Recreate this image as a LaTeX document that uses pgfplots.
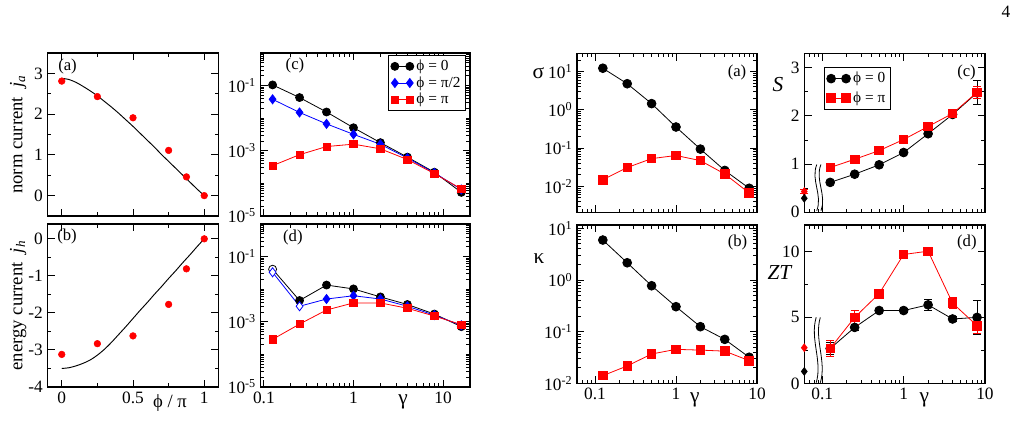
\documentclass[border=0pt]{standalone}
\usepackage{fontspec}
\setmainfont{Liberation Serif}
\usepackage{pgfplots}
\pgfplotsset{compat=1.18}

% font sizes
\newcommand{\tk}{\fontsize{13}{15}\selectfont}
\newcommand{\lbf}{\fontsize{14}{16}\selectfont}
\newcommand{\glf}{\fontsize{16}{18}\selectfont}
\newcommand{\plf}{\fontsize{12.5}{14}\selectfont}
\newcommand{\lgf}{\fontsize{11.5}{13}\selectfont}
\newcommand{\tenp}[1]{10\textsuperscript{#1}}

\pgfplotsset{
  grace/.style={
    scale only axis, anchor=south west, clip=false,
    axis line style={line width=1pt},
    every tick/.style={black, line width=0.7pt},
    tick align=inside,
    major tick length=5.5pt, minor tick length=2.8pt,
    tick label style={font=\tk},
    legend cell align=left,
    legend image code/.code={\draw[mark repeat=2,mark phase=1,#1]
      plot coordinates {(0pt,0pt) (5.6pt,0pt) (11.2pt,0pt)};},
  },
  blk/.style={black, line width=0.6pt, mark=*, mark size=3pt},
  blu/.style={blue, line width=0.6pt, mark=diamond*, mark size=3.4pt},
  rsq/.style={red, line width=0.6pt, mark=square*, mark size=2.7pt},
  blkR/.style={black, line width=0.6pt, mark=*, mark size=3.3pt},
  rsqR/.style={red, line width=0.6pt, mark=square*, mark size=3.2pt},
  errs/.style={error bars/y dir=both, error bars/y explicit,
    error bars/error bar style={line width=0.6pt},
    error bars/error mark options={rotate=90, mark size=3pt, line width=0.6pt}},
}

\begin{document}
\begin{tikzpicture}
\useasboundingbox (0pt,0pt) rectangle (761.25pt,-315.75pt);
\node[font=\tk] at (754.5pt,-9pt) {4};

% ---------- norm current ----------
\begin{axis}[grace, at={(35.625pt,-162pt)}, width=128.25pt, height=122.25pt,
  xmin=-0.1, xmax=1.1, ymin=-0.5, ymax=3.5,
  xtick={0,0.5,1}, xticklabels={}, minor xtick={0.25,0.75},
  ytick={0,1,2,3}, yticklabels={0,1,2,3}, minor ytick={0.5,1.5,2.5},
  ylabel={norm current~~\textit{j}\textsubscript{\textit{a}}},
  ylabel style={at={(axis description cs:-0.172,0.5)}, anchor=center, font=\lbf}]
\addplot[black, line width=0.7pt, smooth] coordinates {
  (0,2.88) (0.05,2.85) (0.1,2.78) (0.15,2.68) (0.2,2.57) (0.25,2.45)
  (0.3,2.31) (0.35,2.17) (0.4,2.02) (0.45,1.86) (0.5,1.70) (0.55,1.53)
  (0.6,1.36) (0.65,1.19) (0.7,1.01) (0.75,0.84) (0.8,0.67) (0.85,0.50)
  (0.9,0.33) (0.95,0.16) (1,0)};
\addplot[red, only marks, mark=*, mark size=2.5pt] coordinates {
  (0,2.81) (0.25,2.43) (0.5,1.91) (0.75,1.11) (0.875,0.46) (1,0)};
\node[font=\plf] at (axis description cs:0.117,0.92) {(a)};
\end{axis}

% ---------- energy current ----------
\begin{axis}[grace, at={(35.625pt,-290.25pt)}, width=128.25pt, height=122.25pt,
  xmin=-0.1, xmax=1.1, ymin=-4, ymax=0.4,
  xtick={0,0.5,1}, xticklabels={0,0.5,1}, minor xtick={0.25,0.75},
  ytick={-4,-3,-2,-1,0}, yticklabels={-4,-3,-2,-1,0}, minor ytick={-3.5,-2.5,-1.5,-0.5},
  ylabel={energy current~~\textit{j}\textsubscript{\textit{h}}},
  ylabel style={at={(axis description cs:-0.172,0.5)}, anchor=center, font=\lbf},
  xlabel={ϕ / π},
  xlabel style={at={(axis description cs:0.716,-0.123)}, anchor=base, font=\lbf}]
\addplot[black, line width=0.7pt, smooth] coordinates {
  (0,-3.50) (0.05,-3.48) (0.1,-3.43) (0.15,-3.36) (0.2,-3.27) (0.25,-3.14)
  (0.3,-2.98) (0.35,-2.79) (0.4,-2.58) (0.45,-2.37) (0.5,-2.15) (0.55,-1.93)
  (0.6,-1.72) (0.65,-1.50) (0.7,-1.29) (0.75,-1.07) (0.8,-0.86) (0.85,-0.64)
  (0.9,-0.43) (0.95,-0.21) (1,0)};
\addplot[red, only marks, mark=*, mark size=2.5pt] coordinates {
  (0,-3.12) (0.25,-2.83) (0.5,-2.62) (0.75,-1.77) (0.875,-0.81) (1,0)};
\node[font=\plf] at (axis description cs:0.114,0.923) {(b)};
\end{axis}

% ---------- (c) ----------
\begin{axis}[grace, at={(195.5pt,-162pt)}, width=157pt, height=122.25pt,
  xmode=log, ymode=log, xmin=0.092, xmax=20, ymin=1e-5, ymax=1,
  xtick={0.1,1,10}, xticklabels={},
  minor xtick={0.2,0.3,0.4,0.5,0.6,0.7,0.8,0.9,2,3,4,5,6,7,8,9,20},
  ytick={1e-5,1e-3,1e-1}, yticklabels={\tenp{-5},\tenp{-3},\tenp{-1}},
  minor ytick={2e-5,3e-5,4e-5,5e-5,6e-5,7e-5,8e-5,9e-5,1e-4,2e-4,3e-4,4e-4,5e-4,6e-4,7e-4,8e-4,9e-4,2e-3,3e-3,4e-3,5e-3,6e-3,7e-3,8e-3,9e-3,1e-2,2e-2,3e-2,4e-2,5e-2,6e-2,7e-2,8e-2,9e-2,2e-1,3e-1,4e-1,5e-1,6e-1,7e-1,8e-1,9e-1},
  legend style={at={(axis description cs:0.979,0.988)}, anchor=north east,
    draw=black, line width=0.6pt, font=\lgf, inner sep=1.5pt, row sep=-1pt}]
\addplot[blk] coordinates {(0.125,0.105) (0.25,0.043) (0.5,0.0155) (1,0.0051) (2,0.00178) (4,6.4e-4) (8,2.2e-4) (16,5.3e-5)};
\addlegendentry{ϕ = 0}
\addplot[blu] coordinates {(0.125,0.038) (0.25,0.015) (0.5,0.0067) (1,0.0032) (2,0.00158) (4,6.0e-4) (8,2.1e-4) (16,6.5e-5)};
\addlegendentry{ϕ = π/2}
\addplot[rsq] coordinates {(0.125,3.5e-4) (0.25,7.6e-4) (0.5,1.35e-3) (1,1.6e-3) (2,1.15e-3) (4,5.4e-4) (8,2.0e-4) (16,6.8e-5)};
\addlegendentry{ϕ = π}
\node[font=\plf] at (axis description cs:0.164,0.923) {(c)};
\end{axis}

% ---------- (d) ----------
\begin{axis}[grace, at={(195.5pt,-290.25pt)}, width=157pt, height=122.25pt,
  xmode=log, ymode=log, xmin=0.092, xmax=20, ymin=1e-5, ymax=1,
  xtick={0.1,1,10}, xticklabels={0.1,1,10},
  minor xtick={0.2,0.3,0.4,0.5,0.6,0.7,0.8,0.9,2,3,4,5,6,7,8,9,20},
  ytick={1e-5,1e-3,1e-1}, yticklabels={\tenp{-5},\tenp{-3},\tenp{-1}},
  minor ytick={2e-5,3e-5,4e-5,5e-5,6e-5,7e-5,8e-5,9e-5,1e-4,2e-4,3e-4,4e-4,5e-4,6e-4,7e-4,8e-4,9e-4,2e-3,3e-3,4e-3,5e-3,6e-3,7e-3,8e-3,9e-3,1e-2,2e-2,3e-2,4e-2,5e-2,6e-2,7e-2,8e-2,9e-2,2e-1,3e-1,4e-1,5e-1,6e-1,7e-1,8e-1,9e-1},
  xlabel={γ}, xlabel style={at={(axis description cs:0.68,-0.11)}, anchor=base, font=\glf}]
\addplot[blk, mark indices={2,3,4,5,6,7,8}] coordinates {(0.125,0.041) (0.25,4.5e-3) (0.5,0.0134) (1,0.0102) (2,5.8e-3) (4,3.4e-3) (8,1.73e-3) (16,7.1e-4)};
\addplot[blk, only marks, mark options={fill=white}] coordinates {(0.125,0.041)};
\addplot[blu, mark indices={3,4,5,6,7,8}] coordinates {(0.125,0.033) (0.25,3.0e-3) (0.5,5.0e-3) (1,6.3e-3) (2,5.0e-3) (4,3.0e-3) (8,1.6e-3) (16,7.8e-4)};
\addplot[blu, only marks, mark options={fill=white}] coordinates {(0.125,0.033) (0.25,3.0e-3)};
\addplot[rsq] coordinates {(0.125,2.9e-4) (0.25,8.5e-4) (0.5,2.3e-3) (1,3.8e-3) (2,3.8e-3) (4,2.6e-3) (8,1.5e-3) (16,8.2e-4)};
\node[font=\plf] at (axis description cs:0.154,0.917) {(d)};
\end{axis}

% ---------- sigma ----------
\begin{axis}[grace, at={(432.75pt,-159.2pt)}, width=135pt, height=119.25pt,
  xmode=log, ymode=log, xmin=0.06, xmax=10, ymin=2.1e-3, ymax=30,
  xtick={0.1,1,10}, xticklabels={},
  minor xtick={0.07,0.08,0.09,0.2,0.3,0.4,0.5,0.6,0.7,0.8,0.9,2,3,4,5,6,7,8,9},
  ytick={1e-2,1e-1,1,10}, yticklabels={\tenp{-2},\tenp{-1},\tenp{0},\tenp{1}},
  minor ytick={3e-3,4e-3,5e-3,6e-3,7e-3,8e-3,9e-3,2e-2,3e-2,4e-2,5e-2,6e-2,7e-2,8e-2,9e-2,2e-1,3e-1,4e-1,5e-1,6e-1,7e-1,8e-1,9e-1,2,3,4,5,6,7,8,9,20},
  ylabel={σ}, ylabel style={at={(axis description cs:-0.215,0.876)}, anchor=center, rotate=-90, font=\glf}]
\addplot[blkR] coordinates {(0.125,12.2) (0.25,4.8) (0.5,1.45) (1,0.355) (2,0.094) (4,0.026) (8,0.0089)};
\addplot[rsqR] coordinates {(0.125,0.0149) (0.25,0.031) (0.5,0.053) (1,0.064) (2,0.047) (4,0.021) (8,0.0067)};
\node[font=\plf] at (axis description cs:0.889,0.882) {(a)};
\end{axis}

% ---------- kappa ----------
\begin{axis}[grace, at={(432.75pt,-287.5pt)}, width=135pt, height=118.7pt,
  xmode=log, ymode=log, xmin=0.06, xmax=10, ymin=0.01, ymax=11.6,
  xtick={0.1,1,10}, xticklabels={0.1,1,10},
  minor xtick={0.07,0.08,0.09,0.2,0.3,0.4,0.5,0.6,0.7,0.8,0.9,2,3,4,5,6,7,8,9},
  ytick={1e-2,1e-1,1,10}, yticklabels={\tenp{-2},\tenp{-1},\tenp{0},\tenp{1}},
  minor ytick={2e-2,3e-2,4e-2,5e-2,6e-2,7e-2,8e-2,9e-2,2e-1,3e-1,4e-1,5e-1,6e-1,7e-1,8e-1,9e-1,2,3,4,5,6,7,8,9},
  ylabel={κ}, ylabel style={at={(axis description cs:-0.211,0.79)}, anchor=center, rotate=-90, font=\glf},
  xlabel={γ}, xlabel style={at={(axis description cs:0.655,-0.12)}, anchor=base, font=\glf}]
\addplot[blkR] coordinates {(0.125,5.95) (0.25,2.16) (0.5,0.776) (1,0.305) (2,0.125) (4,0.071) (8,0.032)};
\addplot[rsqR] coordinates {(0.125,0.0141) (0.25,0.0217) (0.5,0.037) (1,0.0455) (2,0.044) (4,0.042) (8,0.0275)};
\node[font=\plf] at (axis description cs:0.892,0.893) {(b)};
\end{axis}

% ---------- S ----------
\begin{axis}[grace, at={(603.2pt,-159.2pt)}, width=135.5pt, height=119.25pt,
  xmode=log, xmin=0.06, xmax=10, ymin=0, ymax=3.3,
  xtick={0.1,1,10}, xticklabels={},
  minor xtick={0.07,0.08,0.09,0.2,0.3,0.4,0.5,0.6,0.7,0.8,0.9,2,3,4,5,6,7,8,9},
  ytick={0,1,2,3}, yticklabels={0,1,2,3}, minor ytick={0.5,1.5,2.5},
  ylabel={\textit{S}}, ylabel style={at={(axis description cs:-0.146,0.804)}, anchor=center, rotate=-90, font=\glf},
  legend style={at={(axis description cs:0.111,0.912)}, anchor=north west,
    draw=black, line width=0.6pt, font=\lgf, inner sep=1.5pt, row sep=1pt}]
\addplot[blkR, errs] coordinates {(0.125,0.62) (0.25,0.79) (0.5,0.985) (1,1.24) (2,1.63) (4,2.03) (8,2.48) +- (0,0.25)};
\addlegendentry{ϕ = 0}
\addplot[rsqR, errs] coordinates {(0.125,0.93) (0.25,1.10) (0.5,1.28) (1,1.51) (2,1.78) (4,2.05) (8,2.49) +- (0,0.13)};
\addlegendentry{ϕ = π}
\addplot[red, only marks, mark=diamond*, mark size=3pt, errs, forget plot] coordinates {(0.06,0.43) +- (0,0.04)};
\addplot[black, only marks, mark=diamond*, mark size=3pt, forget plot] coordinates {(0.06,0.29)};
\draw[line width=0.6pt] (axis description cs:0.069,0.30) .. controls (axis description cs:0.035,0.20) and (axis description cs:0.103,0.11) .. (axis description cs:0.069,0.01);
\draw[line width=0.6pt] (axis description cs:0.092,0.30) .. controls (axis description cs:0.058,0.20) and (axis description cs:0.126,0.11) .. (axis description cs:0.092,0.01);
\node[font=\plf] at (axis description cs:0.898,0.882) {(c)};
\end{axis}

% ---------- ZT ----------
\begin{axis}[grace, at={(603.2pt,-287.5pt)}, width=135.5pt, height=118.7pt,
  xmode=log, xmin=0.06, xmax=10, ymin=0, ymax=12,
  xtick={0.1,1,10}, xticklabels={0.1,1,10},
  minor xtick={0.07,0.08,0.09,0.2,0.3,0.4,0.5,0.6,0.7,0.8,0.9,2,3,4,5,6,7,8,9},
  ytick={0,5,10}, yticklabels={0,5,10}, minor ytick={2.5,7.5},
  ylabel={\textit{ZT}}, ylabel style={at={(axis description cs:-0.134,0.70)}, anchor=center, rotate=-90, font=\glf},
  xlabel={γ}, xlabel style={at={(axis description cs:0.665,-0.12)}, anchor=base, font=\glf}]
\addplot[blkR, errs] coordinates {(0.125,2.64) +- (0,0.47) (0.25,4.24) +- (0,0.2) (0.5,5.52) +- (0,0.15) (1,5.52) +- (0,0.15) (2,5.95) +- (0,0.4) (4,4.88) +- (0,0.2) (8,5.0) +- (0,1.3)};
\addplot[rsqR, errs] coordinates {(0.125,2.65) +- (0,0.64) (0.25,5.0) +- (0,0.55) (0.5,6.8) +- (0,0.2) (1,9.77) +- (0,0.15) (2,10.02) +- (0,0.1) (4,6.08) +- (0,0.4) (8,4.37) +- (0,0.6)};
\addplot[red, only marks, mark=diamond*, mark size=3pt] coordinates {(0.06,2.7)};
\addplot[black, only marks, mark=diamond*, mark size=3pt] coordinates {(0.06,0.9)};
\draw[line width=0.6pt] (axis description cs:0.066,0.417) .. controls (axis description cs:0.030,0.28) and (axis description cs:0.102,0.14) .. (axis description cs:0.066,0.004);
\draw[line width=0.6pt] (axis description cs:0.089,0.417) .. controls (axis description cs:0.053,0.28) and (axis description cs:0.125,0.14) .. (axis description cs:0.089,0.004);
\node[font=\plf] at (axis description cs:0.9,0.889) {(d)};
\end{axis}
\end{tikzpicture}
\end{document}
